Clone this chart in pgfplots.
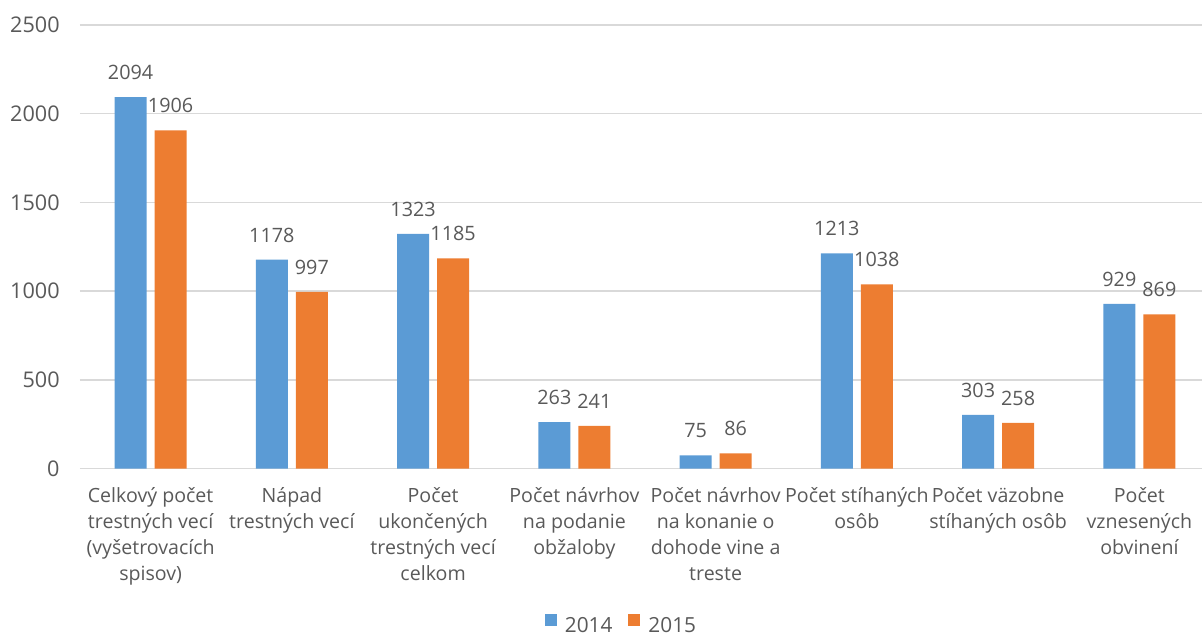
\documentclass[border=0pt]{standalone}
\usepackage{fontspec}
\setmainfont{Open Sans}
\usepackage{pgfplots}
\pgfplotsset{compat=1.18}
\definecolor{cblue}{HTML}{5B9BD5}
\definecolor{corange}{HTML}{ED7D31}
\definecolor{ctext}{HTML}{595959}
\definecolor{cgrid}{HTML}{D9D9D9}
\pgfkeys{/pgf/number format/.cd, assume math mode=true, 1000 sep={}}
\begin{document}
\begin{tikzpicture}
\begin{axis}[
  at={(0pt,0pt)}, anchor=south west,
  scale only axis, width=565pt, height=221.85pt,
  xmin=-0.5, xmax=7.5, ymin=0, ymax=2500,
  ytick={0,500,...,2500},
  xtick={0,...,7},
  xticklabels={
    {Celkový počet\\trestných vecí\\(vyšetrovacích\\spisov)},
    {Nápad\\trestných vecí},
    {Počet\\ukončených\\trestných vecí\\celkom},
    {Počet návrhov\\na podanie\\obžaloby},
    {Počet návrhov\\na konanie o\\dohode vine a\\treste},
    {Počet stíhaných\\osôb},
    {Počet väzobne\\stíhaných osôb},
    {Počet\\vznesených\\obvinení}},
  ymajorgrids, grid style={cgrid, line width=0.75pt},
  axis line style={draw=none},
  major tick length=0pt,
  ticklabel style={font=\fontsize{9.8}{13}\selectfont, text=ctext},
  yticklabel style={inner sep=0pt, anchor=east, xshift=-10pt, font=\fontsize{10.8}{13}\selectfont},
  xticklabel style={inner sep=0pt, anchor=north, yshift=-9pt, align=center},
  ybar=4pt, bar width=16pt,
  nodes near coords,
  every node near coord/.append style={font=\fontsize{9.9}{13}\selectfont, text=ctext, inner sep=0pt, yshift=8.5pt},
  legend columns=2,
  legend style={at={(0.4783,-0.3515)}, anchor=center, draw=none, fill=none,
    font=\fontsize{10.4}{13}\selectfont, text=ctext, column sep=0pt,
    /tikz/every odd column/.append style={column sep=4pt},
    /tikz/every even column/.append style={column sep=8pt},
    nodes={inner sep=0pt}},
]
\addplot[fill=cblue, draw=none, legend image code/.code={\fill[cblue] (0pt,0.6pt) rectangle (6pt,6.6pt);}]
  coordinates {(0,2094) (1,1178) (2,1323) (3,263) (4,75) (5,1213) (6,303) (7,929)};
\addlegendentry{2014}
\addplot[fill=corange, draw=none, legend image code/.code={\fill[corange] (0pt,0.6pt) rectangle (6pt,6.6pt);}]
  coordinates {(0,1906) (1,997) (2,1185) (3,241) (4,86) (5,1038) (6,258) (7,869)};
\addlegendentry{2015}
\end{axis}
\pgfresetboundingbox
\path (-40pt,-84.15pt) rectangle (561pt,234.35pt);
\end{tikzpicture}
\end{document}
